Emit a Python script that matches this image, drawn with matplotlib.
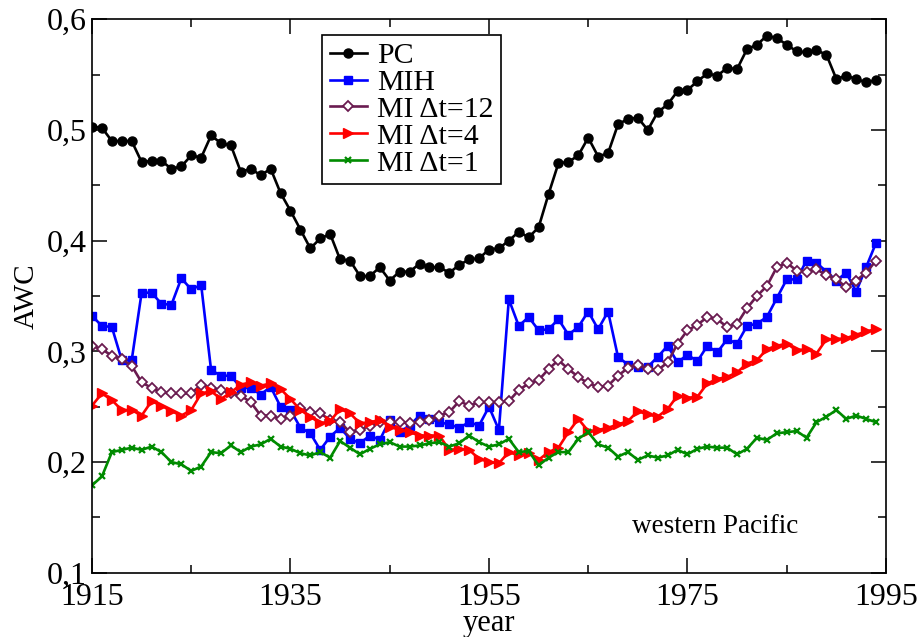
import matplotlib
matplotlib.use('Agg')
import matplotlib.pyplot as plt
from matplotlib.ticker import FixedLocator, MultipleLocator, FuncFormatter

# yearly values, 1915 .. 1994
years = list(range(1915, 1995))

pc = [0.503, 0.502, 0.490, 0.490, 0.490, 0.471, 0.472, 0.472, 0.465, 0.467,
      0.477, 0.475, 0.495, 0.488, 0.486, 0.462, 0.465, 0.459, 0.465, 0.443,
      0.427, 0.410, 0.393, 0.402, 0.406, 0.383, 0.382, 0.368, 0.368, 0.376,
      0.364, 0.372, 0.372, 0.379, 0.376, 0.376, 0.371, 0.378, 0.383, 0.384,
      0.392, 0.393, 0.400, 0.408, 0.403, 0.412, 0.442, 0.470, 0.471, 0.477,
      0.493, 0.476, 0.479, 0.505, 0.510, 0.511, 0.500, 0.516, 0.523, 0.535,
      0.536, 0.544, 0.551, 0.549, 0.556, 0.555, 0.573, 0.577, 0.585, 0.583,
      0.577, 0.571, 0.570, 0.572, 0.568, 0.546, 0.549, 0.546, 0.543, 0.545]

mih = [0.332, 0.323, 0.322, 0.292, 0.292, 0.353, 0.353, 0.343, 0.342, 0.366,
       0.356, 0.360, 0.283, 0.278, 0.278, 0.267, 0.267, 0.261, 0.268, 0.250,
       0.247, 0.231, 0.226, 0.211, 0.223, 0.231, 0.221, 0.217, 0.224, 0.220,
       0.238, 0.227, 0.233, 0.242, 0.239, 0.236, 0.234, 0.231, 0.236, 0.233,
       0.250, 0.229, 0.347, 0.323, 0.331, 0.319, 0.320, 0.329, 0.315, 0.322,
       0.336, 0.320, 0.336, 0.295, 0.288, 0.286, 0.286, 0.295, 0.305, 0.290,
       0.297, 0.291, 0.305, 0.299, 0.311, 0.307, 0.323, 0.325, 0.331, 0.348,
       0.365, 0.365, 0.382, 0.380, 0.372, 0.364, 0.371, 0.354, 0.376, 0.398]

mi12 = [0.305, 0.302, 0.296, 0.293, 0.287, 0.272, 0.267, 0.263, 0.262, 0.262,
        0.262, 0.270, 0.267, 0.265, 0.262, 0.260, 0.254, 0.242, 0.242, 0.239,
        0.242, 0.249, 0.245, 0.244, 0.238, 0.236, 0.227, 0.229, 0.233, 0.236,
        0.236, 0.236, 0.235, 0.236, 0.238, 0.242, 0.245, 0.255, 0.251, 0.254,
        0.254, 0.254, 0.255, 0.265, 0.271, 0.274, 0.284, 0.292, 0.284, 0.277,
        0.271, 0.268, 0.269, 0.278, 0.285, 0.288, 0.284, 0.283, 0.290, 0.307,
        0.319, 0.324, 0.331, 0.329, 0.322, 0.325, 0.339, 0.350, 0.359, 0.376,
        0.380, 0.373, 0.372, 0.374, 0.369, 0.365, 0.358, 0.364, 0.371, 0.382]

mi4 = [0.251, 0.262, 0.256, 0.247, 0.247, 0.242, 0.255, 0.251, 0.246, 0.242,
       0.247, 0.262, 0.264, 0.257, 0.263, 0.270, 0.272, 0.269, 0.271, 0.266,
       0.257, 0.247, 0.241, 0.235, 0.237, 0.248, 0.244, 0.235, 0.236, 0.238,
       0.232, 0.229, 0.227, 0.224, 0.224, 0.224, 0.211, 0.212, 0.211, 0.203,
       0.200, 0.199, 0.209, 0.206, 0.208, 0.202, 0.209, 0.213, 0.227, 0.239,
       0.228, 0.229, 0.231, 0.234, 0.237, 0.246, 0.243, 0.241, 0.248, 0.260,
       0.258, 0.259, 0.271, 0.275, 0.277, 0.281, 0.289, 0.292, 0.302, 0.305,
       0.307, 0.301, 0.302, 0.298, 0.311, 0.311, 0.312, 0.315, 0.318, 0.320]

mi1 = [0.179, 0.187, 0.209, 0.211, 0.213, 0.211, 0.214, 0.209, 0.200, 0.198,
       0.192, 0.196, 0.209, 0.208, 0.215, 0.209, 0.214, 0.216, 0.221, 0.214,
       0.212, 0.208, 0.206, 0.209, 0.204, 0.219, 0.213, 0.207, 0.212, 0.216,
       0.218, 0.214, 0.214, 0.215, 0.217, 0.218, 0.214, 0.217, 0.224, 0.218,
       0.214, 0.216, 0.221, 0.209, 0.210, 0.197, 0.204, 0.209, 0.209, 0.221,
       0.227, 0.216, 0.213, 0.205, 0.209, 0.202, 0.206, 0.204, 0.206, 0.211,
       0.207, 0.212, 0.214, 0.213, 0.213, 0.207, 0.212, 0.222, 0.220, 0.226,
       0.227, 0.228, 0.222, 0.236, 0.241, 0.247, 0.239, 0.242, 0.239, 0.236]

x_major = [1915, 1935, 1955, 1975, 1995]
x_minor = [1925, 1945, 1965, 1985]

plt.rcParams['font.family'] = ['Liberation Serif', 'DejaVu Serif']

fig = plt.figure(figsize=(9.2, 6.37), dpi=100)
ax = fig.add_axes([0.1, 0.1008, 0.863, 0.869])

lw = 1.9
ax.plot(years, pc, color='black', lw=lw, marker='o', ms=6.5, label='PC')
ax.plot(years, mih, color='#0000FF', lw=lw, marker='s', ms=5.5, label='MIH')
ax.plot(years, mi12, color='#6A1B50', lw=lw, marker='D', ms=5.5, mfc='white',
        mec='#6A1B50', mew=1.3, label='MI \u0394t=12')
ax.plot(years, mi4, color='#FF0000', lw=lw, marker='>', ms=7.5, label='MI \u0394t=4')
ax.plot(years, mi1, color='#008B00', lw=lw, marker='x', ms=5, mew=1.6,
        label='MI \u0394t=1')

# axes ranges and ticks
ax.set_xlim(1915, 1995)
ax.set_ylim(0.1, 0.6)
ax.xaxis.set_major_locator(FixedLocator(x_major))
ax.xaxis.set_minor_locator(FixedLocator(x_minor))
ax.yaxis.set_major_locator(MultipleLocator(0.1))
ax.yaxis.set_minor_locator(MultipleLocator(0.05))
ax.yaxis.set_major_formatter(FuncFormatter(lambda v, p: f'{v:.1f}'.replace('.', ',')))
ax.tick_params(which='both', direction='in', top=True, right=True, width=1.1,
               labelsize=23)
ax.tick_params(which='major', length=11, pad=7)
ax.tick_params(which='minor', length=6)
ax.tick_params(axis='y', which='major', pad=4)
for s in ax.spines.values():
    s.set_linewidth(1.2)

ax.set_xlabel('year', fontsize=22, labelpad=-2)
ax.set_ylabel('AWC', fontsize=21, labelpad=5)

ax.text(1969.4, 0.136, 'western Pacific', fontsize=19.5, ha='left', va='baseline')

leg = ax.legend(loc='upper left', bbox_to_anchor=(0.29, 0.972), fontsize=21.5,
                frameon=True, fancybox=False, edgecolor='black', framealpha=1,
                handlelength=1.25, handletextpad=0.35, labelspacing=0.0,
                borderpad=0.25, borderaxespad=0)
leg.get_frame().set_linewidth(1.2)

plt.savefig('out.png', dpi=100)
plt.close()
